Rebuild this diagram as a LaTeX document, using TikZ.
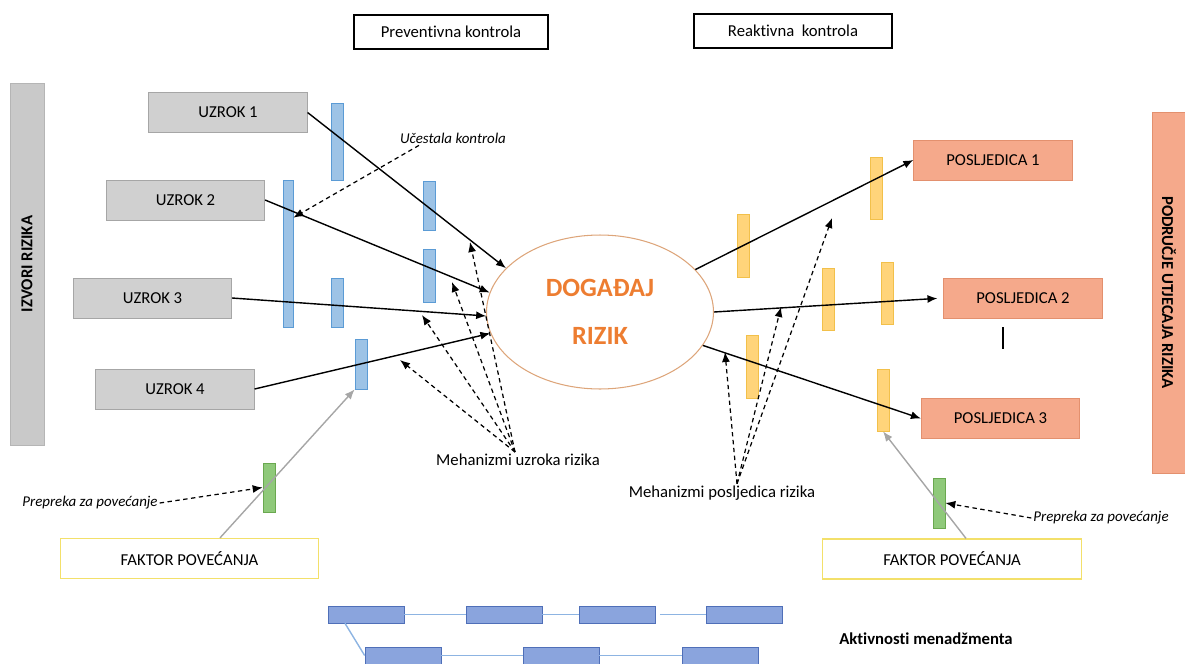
\documentclass[tikz,border=0pt]{standalone}
\usepackage{fontspec}
\setmainfont{Carlito}[Ligatures=NoCommon]
\usetikzlibrary{arrows.meta,shapes.geometric}

\definecolor{causefill}{HTML}{D0D0D0}
\definecolor{causedraw}{HTML}{A6A6A6}
\definecolor{sourcefill}{HTML}{C9C9C9}
\definecolor{sourcedraw}{HTML}{B5B5B5}
\definecolor{effectfill}{HTML}{F5A98B}
\definecolor{effectdraw}{HTML}{E3906E}
\definecolor{bluefill}{HTML}{9DC3E6}
\definecolor{bluedraw}{HTML}{5B9BD5}
\definecolor{yellowfill}{HTML}{FFD47A}
\definecolor{yellowdraw}{HTML}{F2C04A}
\definecolor{greenfill}{HTML}{8FC97A}
\definecolor{greendraw}{HTML}{6AA84F}
\definecolor{eventtext}{HTML}{ED7D31}
\definecolor{eventdraw}{HTML}{DDA57A}
\definecolor{factordraw}{HTML}{F3E06A}
\definecolor{arrowgray}{HTML}{A6A6A6}
\definecolor{taskfill}{HTML}{8AA4DD}
\definecolor{taskdraw}{HTML}{4F6FB8}
\definecolor{linkdraw}{HTML}{8DB4E2}

\begin{document}
\begin{tikzpicture}[x=0.02cm, y=-0.02cm]
	\useasboundingbox (0,0) rectangle (1185,663);
	\tikzstyle{txt} = [
		font=\fontsize{9.5}{11}\selectfont
	]
	\tikzstyle{comp} = [
		rectangle, draw, txt, inner sep=0pt
	]
	\tikzstyle{ctrl} = [
		comp, draw=black, line width=0.7pt, minimum width=3.88cm, minimum height=0.68cm
	]
	\tikzstyle{sidebar} = [
		comp, font=\fontsize{9.5}{11}\selectfont\bfseries, minimum height=0.68cm
	]
	\tikzstyle{cause} = [
		comp, fill=causefill, draw=causedraw, minimum width=3.17cm, minimum height=0.8cm
	]
	\tikzstyle{effect} = [
		comp, fill=effectfill, draw=effectdraw, minimum width=3.17cm, minimum height=0.8cm
	]
	\tikzstyle{factor} = [
		comp, fill=white, draw=factordraw, line width=0.7pt, minimum width=5.17cm, minimum height=0.8cm
	]
	\tikzstyle{barrier} = [
		rectangle, inner sep=0pt, minimum width=0.24cm
	]
	\tikzstyle{bblue} = [
		barrier, fill=bluefill, draw=bluedraw
	]
	\tikzstyle{byellow} = [
		barrier, fill=yellowfill, draw=yellowdraw
	]
	\tikzstyle{bgreen} = [
		barrier, fill=greenfill, draw=greendraw
	]
	\tikzstyle{note} = [
		txt, inner sep=1pt
	]
	\tikzstyle{hint} = [
		font=\fontsize{8.5}{10}\selectfont\itshape, inner sep=1pt
	]
	\tikzstyle{task} = [
		rectangle, fill=taskfill, draw=taskdraw, minimum width=1.52cm, minimum height=0.34cm, inner sep=0pt
	]
	\tikzstyle{conn} = [
		-{Latex[length=2mm,width=1.6mm]}, line width=0.8pt
	]
	\tikzstyle{mech} = [
		conn, line width=0.7pt, dash pattern=on 2.5pt off 2pt
	]
	\tikzstyle{boost} = [
		conn, draw=arrowgray
	]
	\tikzstyle{link} = [
		draw=linkdraw, line width=0.8pt
	]

	% Kontrole
	\node (prev) [ctrl] at (451,32) {Preventivna kontrola};
	\node (react) [ctrl, minimum width=3.96cm] at (793,31) {Reaktivna\ \ kontrola};

	% Izvori i podrucje utjecaja
	\node (sources) [sidebar, fill=sourcefill, draw=sourcedraw, rotate=90, minimum width=7.24cm] at (27,264) {IZVORI RIZIKA};
	\node (impact) [sidebar, fill=effectfill, draw=effectdraw, rotate=-90, minimum width=7.22cm] at (1169,292.5) {PODRUČJE UTJECAJA RIZIKA};

	% Uzroci
	\node (cause1) [cause] at (228,112.5) {UZROK 1};
	\node (cause2) [cause] at (185.5,200) {UZROK 2};
	\node (cause3) [cause] at (152.5,298) {UZROK 3};
	\node (cause4) [cause] at (175,389) {UZROK 4};

	% Dogadjaj
	\node (event) [ellipse, draw=eventdraw, line width=0.6pt, minimum width=4.54cm, minimum height=3.08cm, inner sep=0pt,
		text=eventtext, font=\fontsize{15}{18}\selectfont\bfseries, align=center] at (600,312) {DOGAĐAJ\\[0.34cm]RIZIK};

	% Posljedice
	\node (eff1) [effect] at (993,160) {POSLJEDICA 1};
	\node (eff2) [effect] at (1023,298) {POSLJEDICA 2};
	\node (eff3) [effect] at (1000.5,418.5) {POSLJEDICA 3};

	% Preventivne barijere
	\node (bar1) [bblue, minimum height=1.54cm] at (337,141.5) {};
	\node (bar2) [bblue, minimum width=0.2cm, minimum height=2.94cm] at (288,253.5) {};
	\node (bar3) [bblue, minimum height=0.98cm] at (337,302.5) {};
	\node (bar4) [bblue, minimum height=0.98cm] at (429,205.5) {};
	\node (bar5) [bblue, minimum height=1.06cm] at (429,275.5) {};
	\node (bar6) [bblue, minimum height=1.0cm] at (361,364) {};

	% Reaktivne barijere
	\node (rbar1) [byellow, minimum height=1.24cm] at (876,188) {};
	\node (rbar2) [byellow, minimum height=1.26cm] at (743,245.5) {};
	\node (rbar3) [byellow, minimum height=1.24cm] at (828,299) {};
	\node (rbar4) [byellow, minimum height=1.24cm] at (887.5,293) {};
	\node (rbar5) [byellow, minimum height=1.26cm] at (752,366.5) {};
	\node (rbar6) [byellow, minimum height=1.24cm] at (883,400) {};

	% Faktori povecanja
	\node (factL) [factor] at (189.5,558.5) {FAKTOR POVEĆANJA};
	\node (factR) [factor] at (952,559) {FAKTOR POVEĆANJA};
	\node (gbarL) [bgreen, minimum height=0.98cm] at (269,487.5) {};
	\node (gbarR) [bgreen, minimum height=1.0cm] at (939,503) {};

	% Tekstovi
	\node (freq) [hint] at (453,138) {Učestala kontrola};
	\node (mechC) [note] at (518,460) {Mehanizmi uzroka rizika};
	\node (mechE) [note] at (722,493) {Mehanizmi posljedica rizika};
	\node (obstL) [hint] at (90,503) {Prepreka za povećanje};
	\node (obstR) [hint] at (1101,518) {Prepreka za povećanje};
	\node (mgmt) [note, font=\fontsize{9.5}{11}\selectfont\bfseries] at (926,639) {Aktivnosti menadžmenta};

	% Aktivnosti
	\node (act1) [task] at (366,614.5) {};
	\node (act2) [task] at (504,614.5) {};
	\node (act3) [task] at (617.5,614.5) {};
	\node (act4) [task] at (744,614.5) {};
	\node (act5) [task] at (403,655.5) {};
	\node (act6) [task] at (561,655.5) {};
	\node (act7) [task] at (720,655.5) {};

	% Vrhovi mehanizama
	\coordinate (mc1) at (470,242);
	\coordinate (mc2) at (452,282);
	\coordinate (mc3) at (422,315);
	\coordinate (mc4) at (400,360);
	\coordinate (me1) at (832,218);
	\coordinate (me2) at (781,307);
	\coordinate (me3) at (725,352);

	% Uzroci -> dogadjaj
	\draw[conn] (cause1.east) -- (event.155);
	\draw[conn] (cause2.east) -- (event.170);
	\draw[conn] (cause3.east) -- (event.182);
	\draw[conn] (cause4.east) -- (event.191);
	% Dogadjaj -> posljedice
	\draw[conn] (event.24) -- (eff1.west);
	\draw[conn, shorten >=0.12cm] (event.0) -- (eff2.west);
	\draw[conn] (event.-18) -- (eff3.west);
	\draw[line width=0.7pt] (1003,327) -- (1003,349);

	% Mehanizmi
	\draw[mech] ([xshift=-0.68cm]freq.south) -- ([yshift=-0.76cm]bar2.north east);
	\foreach \m in {mc1,mc2,mc3,mc4}
		\draw[mech] ([xshift=-0.06cm]mechC.north) -- (\m);
	\foreach \m in {me1,me2,me3}
		\draw[mech] ([xshift=0.3cm]mechE.north) -- (\m);

	% Faktori povecanja
	\draw[boost] ([xshift=0.61cm]factL.north) -- (bar6.south west);
	\draw[boost] ([xshift=0.28cm]factR.north) -- (rbar6.south);
	\draw[mech] (obstL.east) -- (gbarL.west);
	\draw[mech] (obstR.west) -- (gbarR.east);

	% Aktivnosti menadzmenta
	\draw[link] (act1) -- (act2);
	\draw[link] (act2) -- (act3);
	\draw[link] ([xshift=0.08cm]act3.east) -- (act4.west);
	\draw[link] (act5) -- (act6);
	\draw[link] (act6) -- (act7);
	\draw[link] ([xshift=-0.42cm]act1.south) -- (act5.west);
\end{tikzpicture}
\end{document}
